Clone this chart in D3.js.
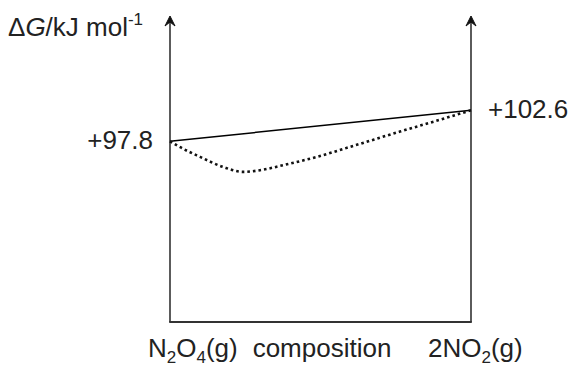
<!DOCTYPE html>
<html>
<head>
<meta charset="utf-8">
<script src="https://cdn.jsdelivr.net/npm/d3@7"></script>
<style>
  body { margin: 0; background: #fff; }
  svg { display: block; font-family: "Liberation Sans", Arial, sans-serif; }
</style>
</head>
<body>
<div id="chart"></div>
<script>
// end points (kJ mol-1) and the dotted mixture curve
const composition = [0, 1];
const pureG = [97.8, 102.6];
const mixComp = [0, 0.022, 0.1, 0.176, 0.243, 0.299, 0.375, 0.487, 0.598, 0.764, 0.897, 1];
const mixG = [97.8, 97.18, 95.37, 93.82, 93.05, 93.31, 94.08, 95.37, 96.92, 99.3, 101.13, 102.6];
const endLabels = ['+97.8', '+102.6'];
const yRange = [69.8, 117.2];

const width = 569, height = 367;
const fs = 26, subFs = 17;

const svg = d3.select('#chart').append('svg')
  .attr('width', width)
  .attr('height', height);

const x = d3.scaleLinear().domain([0, 1]).range([170, 471]);
const y = d3.scaleLinear().domain(yRange).range([322, 16]);

// axes: two vertical arrows and the base line
const axisColor = '#333';
[0, 1].forEach(c => {
  svg.append('line')
    .attr('x1', x(c)).attr('x2', x(c))
    .attr('y1', y(yRange[0])).attr('y2', y(yRange[1]) + 3)
    .attr('stroke', axisColor)
    .attr('stroke-width', 1.6);
  const ax = x(c), ay = y(yRange[1]);
  svg.append('path')
    .attr('d', `M${ax},${ay} L${ax - 5},${ay + 10} L${ax},${ay + 6} L${ax + 5},${ay + 10} Z`)
    .attr('fill', '#111')
    .attr('stroke', '#111')
    .attr('stroke-width', 1);
});
svg.append('line')
  .attr('x1', x(0) - 0.8).attr('x2', x(1) + 0.8)
  .attr('y1', y(yRange[0])).attr('y2', y(yRange[0]))
  .attr('stroke', axisColor)
  .attr('stroke-width', 1.8);

// straight line joining the pure substances
svg.append('line')
  .attr('x1', x(composition[0])).attr('y1', y(pureG[0]))
  .attr('x2', x(composition[1])).attr('y2', y(pureG[1]))
  .attr('stroke', '#000')
  .attr('stroke-width', 1.5);

// dotted curve for the mixture
const mix = mixComp.map((c, i) => [c, mixG[i]]);
svg.append('path')
  .datum(mix)
  .attr('d', d3.line().x(d => x(d[0])).y(d => y(d[1])).curve(d3.curveMonotoneX))
  .attr('fill', 'none')
  .attr('stroke', '#111')
  .attr('stroke-width', 2.6)
  .attr('stroke-dasharray', '2.6,3');

// value labels
svg.append('text')
  .attr('x', x(0) - 17).attr('y', y(pureG[0]) + 8)
  .attr('text-anchor', 'end')
  .attr('font-size', fs)
  .attr('fill', '#222')
  .text(endLabels[0]);
svg.append('text')
  .attr('x', x(1) + 17).attr('y', y(pureG[1]) + 8)
  .attr('font-size', fs)
  .attr('fill', '#222')
  .text(endLabels[1]);

// y axis title
const title = svg.append('text')
  .attr('x', 8).attr('y', 36)
  .attr('font-size', fs)
  .attr('fill', '#222');
title.append('tspan').text('Δ');
title.append('tspan').attr('font-style', 'italic').text('G');
title.append('tspan').text('/kJ mol');
title.append('tspan').attr('font-size', subFs).attr('dy', -11).text('-1');

// bottom labels
const baseY = 357;
const left = svg.append('text')
  .attr('x', 148).attr('y', baseY)
  .attr('font-size', fs)
  .attr('fill', '#222');
left.append('tspan').text('N');
left.append('tspan').attr('font-size', subFs).attr('dy', 6).text('2');
left.append('tspan').attr('dy', -6).text('O');
left.append('tspan').attr('font-size', subFs).attr('dy', 6).text('4');
left.append('tspan').attr('dy', -6).text('(g)');

svg.append('text')
  .attr('x', 322).attr('y', baseY)
  .attr('text-anchor', 'middle')
  .attr('font-size', fs)
  .attr('fill', '#222')
  .text('composition');

const right = svg.append('text')
  .attr('x', 428).attr('y', baseY)
  .attr('font-size', fs)
  .attr('fill', '#222');
right.append('tspan').text('2NO');
right.append('tspan').attr('font-size', subFs).attr('dy', 6).text('2');
right.append('tspan').attr('dy', -6).text('(g)');
</script>
</body>
</html>
